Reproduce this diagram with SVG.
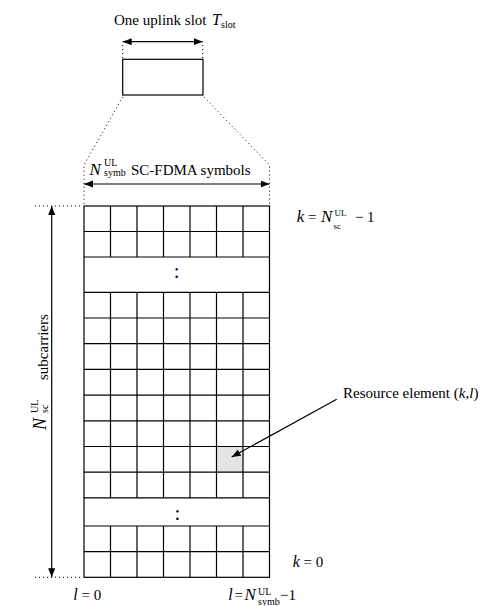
<svg xmlns="http://www.w3.org/2000/svg" width="488" height="606" viewBox="0 0 488 606">
<style>
text { font-family: "Liberation Serif", "Times New Roman", serif; font-size: 15px; fill: #000; }
.i { font-style: italic; font-size: 17px; }
.s { font-size: 10px; }
.cell line, .cell rect, .cell path { stroke: #000; stroke-width: 1.2; fill: none; }
.dot { stroke: #000; stroke-width: 1; stroke-dasharray: 1 3; fill: none; }
.arr { stroke: #000; stroke-width: 1.2; fill: none; }
</style>
<defs>
<marker id="ah" markerUnits="userSpaceOnUse" markerWidth="10" markerHeight="8" refX="9" refY="3.5" orient="auto-start-reverse">
<path d="M0,0 L9,3.5 L0,7 z" fill="#000"/>
</marker>
</defs>

<g id="slot">
<rect x="122.7" y="59.3" width="80.3" height="35.7" fill="none" stroke="#000" stroke-width="1.2"/>
<text x="114" y="25">One uplink slot</text>
<text class="i" x="212" y="25" style="font-size:16px">T</text>
<text class="s" x="221" y="28">slot</text>
</g>

<g id="symb-label">
<text class="i" x="89.5" y="175">N</text>
<text class="s" x="104" y="165.5">UL</text>
<text class="s" x="104" y="176">symb</text>
<text x="131" y="175">SC-FDMA symbols</text>
</g>

<g id="resource-element">
<rect x="216.5" y="446.5" width="26.5" height="25.7" fill="#e4e4e4"/>
</g>

<g id="grid" class="cell">
<rect x="84" y="206" width="185.5" height="371.3"/>
<line x1="84" y1="231.5" x2="269.5" y2="231.5"/>
<line x1="84" y1="257" x2="269.5" y2="257"/>
<line x1="84" y1="292.3" x2="269.5" y2="292.3"/>
<line x1="84" y1="318" x2="269.5" y2="318"/>
<line x1="84" y1="343.7" x2="269.5" y2="343.7"/>
<line x1="84" y1="369.4" x2="269.5" y2="369.4"/>
<line x1="84" y1="395.1" x2="269.5" y2="395.1"/>
<line x1="84" y1="420.8" x2="269.5" y2="420.8"/>
<line x1="84" y1="446.5" x2="269.5" y2="446.5"/>
<line x1="84" y1="472.2" x2="269.5" y2="472.2"/>
<line x1="84" y1="497.9" x2="269.5" y2="497.9"/>
<line x1="84" y1="526" x2="269.5" y2="526"/>
<line x1="84" y1="551.7" x2="269.5" y2="551.7"/>
<path d="M110.5,206V257M137,206V257M163.5,206V257M190,206V257M216.5,206V257M243,206V257"/>
<path d="M110.5,292.3V497.9M137,292.3V497.9M163.5,292.3V497.9M190,292.3V497.9M216.5,292.3V497.9M243,292.3V497.9"/>
<path d="M110.5,526V577.3M137,526V577.3M163.5,526V577.3M190,526V577.3M216.5,526V577.3M243,526V577.3"/>
<text x="176.7" y="277.7" text-anchor="middle" style="font-size:21px">:</text>
<text x="177.3" y="520" text-anchor="middle" style="font-size:21px">:</text>
</g>

<g id="label-k-top">
<text class="i" x="296.7" y="221.7">k</text>
<text x="308" y="221.7">=</text>
<text class="i" x="321" y="221.7">N</text>
<text class="s" x="334.5" y="216" style="font-size:9px">UL</text>
<text class="s" x="333.5" y="228.5" style="font-size:9px">sc</text>
<text x="355" y="221.7">−</text>
<text x="367" y="221.7">1</text>
</g>

<g id="label-k-bottom">
<text x="292.7" y="567.3"><tspan class="i" style="font-size:16px">k</tspan> = 0</text>
</g>

<g id="label-l-first">
<text x="73.3" y="600"><tspan class="i" style="font-size:16px">l</tspan> = 0</text>
</g>

<g id="label-l-last">
<text class="i" x="228.3" y="600" style="font-size:16px">l</text>
<text x="234.5" y="600">=</text>
<text class="i" x="244.5" y="600">N</text>
<text class="s" x="258" y="595">UL</text>
<text class="s" x="258" y="605">symb</text>
<text x="280" y="600">−1</text>
</g>

<g id="label-subcarriers" transform="translate(47,430) rotate(-90)">
<text class="i" x="0" y="-1.5" style="font-size:18px">N</text>
<text class="s" x="17" y="-9.5">UL</text>
<text class="s" x="17" y="0.5">sc</text>
<text x="50" y="1">subcarriers</text>
</g>

<g id="label-re">
<text x="343" y="398.3">Resource element (<tspan class="i" style="font-size:15px">k</tspan>,<tspan class="i" style="font-size:15px">l</tspan>)</text>
</g>

<g id="connectors">
<line class="arr" x1="122.7" y1="41.7" x2="202.7" y2="41.7" marker-start="url(#ah)" marker-end="url(#ah)"/>
<line class="dot" x1="122.7" y1="45" x2="122.7" y2="59"/>
<line class="dot" x1="202.7" y1="45" x2="202.7" y2="59"/>
<polyline class="dot" points="122.7,97 84,165 84,206"/>
<polyline class="dot" points="204,97 269.5,165 269.5,206"/>
<line class="arr" x1="84" y1="184" x2="269.5" y2="184" marker-start="url(#ah)" marker-end="url(#ah)"/>
<line class="dot" x1="35" y1="206" x2="83" y2="206"/>
<line class="dot" x1="35" y1="577.3" x2="83" y2="577.3"/>
<line class="arr" x1="51.7" y1="206" x2="51.7" y2="577.3" marker-start="url(#ah)" marker-end="url(#ah)"/>
<line class="arr" x1="336.7" y1="399.3" x2="231.7" y2="457" marker-end="url(#ah)"/>
</g>
</svg>
